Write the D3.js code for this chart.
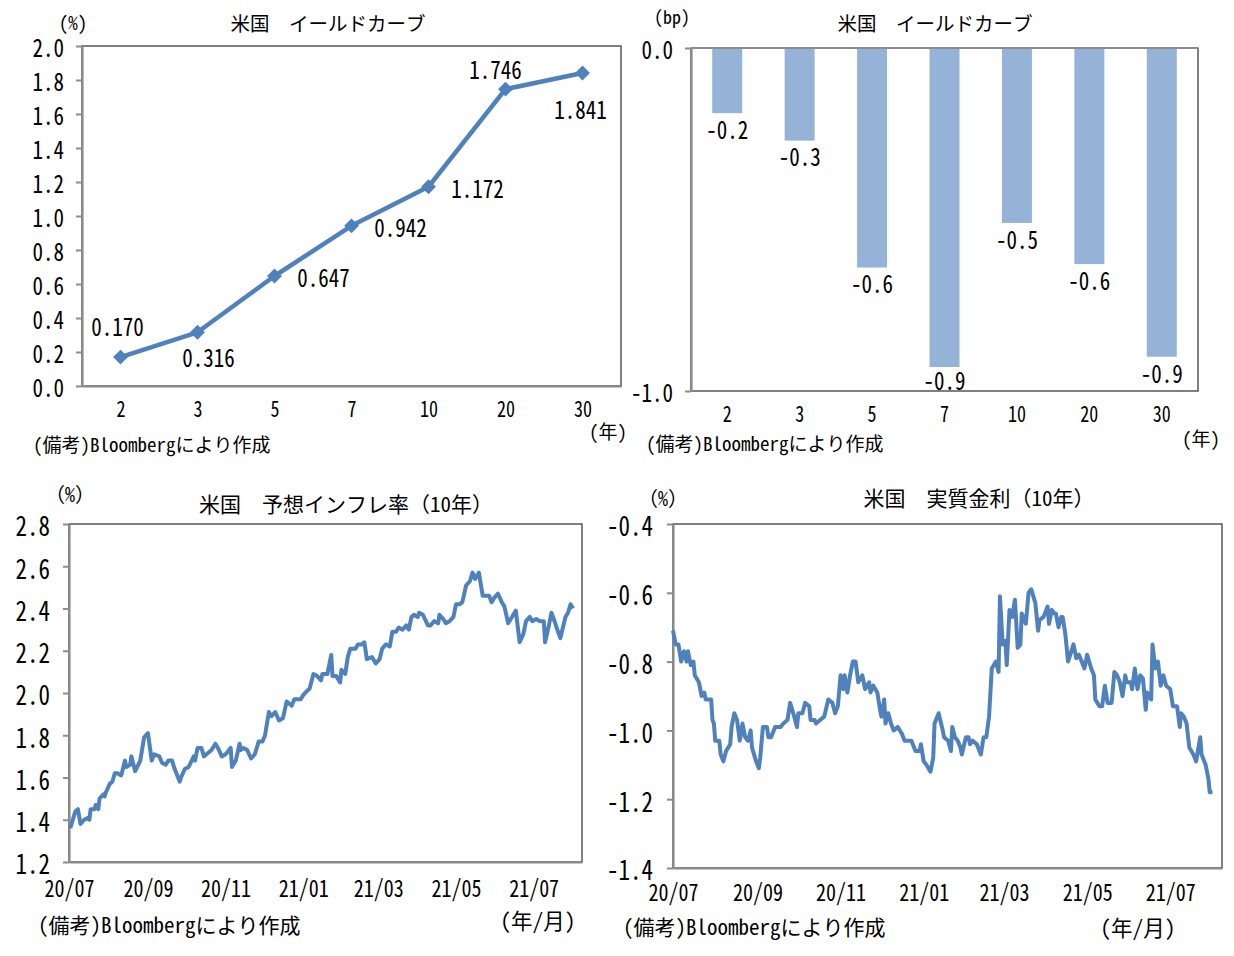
<!DOCTYPE html>
<html>
<head>
<meta charset="utf-8">
<script src="https://cdn.jsdelivr.net/npm/d3@7"></script>
<style>
  body { margin: 0; background: #fff; }
  text { font-family: "Noto Sans Mono CJK JP", "Noto Sans CJK JP", sans-serif; fill: #000; }
</style>
</head>
<body>
<script>
//yield curve data (years to maturity)
var curveTerms = ["2", "3", "5", "7", "10", "20", "30"];
var curveYield = [0.170, 0.316, 0.647, 0.942, 1.172, 1.746, 1.841];
var curveChange = [-0.19, -0.27, -0.64, -0.93, -0.51, -0.63, -0.90];

//10y breakeven inflation, days counted from 2020-07-01
var beiDay = [1,5,7,9,12,15,16,17,20,21,23,24,27,28,29,32,34,36,38,41,44,45,48,49,52,56,59,62,65,67,
  71,73,76,78,81,83,87,88,91,94,98,99,101,104,106,108,112,115,117,120,123,127,128,131,134,135,137,140,143,146,
  149,152,154,157,159,162,165,168,171,175,177,182,184,187,189,192,195,198,199,203,206,207,210,213,214,217,219,221,225,227,
  230,232,234,238,241,244,246,249,252,254,257,259,262,265,267,269,271,274,275,278,282,284,287,290,291,294,296,299,302,304,
  307,309,312,315,317,319,322,325,328,330,332,334,337,340,342,345,348,351,354,357,359,362,364,367,370,373,374,377,379,382,
  383,386,388,390,392,394,396];
var beiValue = [1.36,1.44,1.45,1.38,1.40,1.41,1.40,1.45,1.45,1.47,1.45,1.50,1.52,1.51,1.53,1.57,1.58,1.62,1.62,1.61,
  1.68,1.65,1.66,1.70,1.63,1.68,1.79,1.81,1.68,1.71,1.70,1.67,1.66,1.68,1.68,1.64,1.58,1.60,1.64,1.65,
  1.70,1.68,1.74,1.74,1.70,1.71,1.73,1.76,1.74,1.70,1.71,1.74,1.65,1.68,1.76,1.73,1.74,1.73,1.69,1.71,
  1.77,1.77,1.80,1.91,1.89,1.91,1.87,1.88,1.96,1.94,1.97,1.97,1.99,2.01,2.02,2.09,2.08,2.06,2.09,2.09,
  2.18,2.08,2.08,2.05,2.11,2.09,2.17,2.21,2.21,2.23,2.23,2.24,2.16,2.17,2.14,2.16,2.21,2.23,2.22,2.29,
  2.29,2.31,2.30,2.32,2.30,2.36,2.37,2.36,2.38,2.37,2.32,2.32,2.34,2.33,2.37,2.35,2.33,2.34,2.36,2.42,
  2.42,2.43,2.51,2.53,2.57,2.54,2.57,2.46,2.46,2.46,2.43,2.45,2.47,2.43,2.41,2.33,2.36,2.39,2.24,2.28,
  2.34,2.36,2.34,2.35,2.34,2.34,2.24,2.32,2.38,2.33,2.31,2.26,2.31,2.36,2.38,2.42,2.40];

//10y real yield, days counted from 2020-07-01
var realDay = [0,2,4,6,8,10,11,13,15,16,19,21,23,24,26,28,29,30,31,34,35,37,39,42,43,45,47,49,50,51,
  53,55,57,58,61,63,64,66,69,70,72,75,77,79,81,84,86,89,91,92,95,97,100,101,104,105,108,111,114,117,
  119,121,123,125,126,128,130,132,134,136,139,141,144,145,147,150,152,153,155,156,158,160,162,165,168,170,172,175,178,181,
  182,184,186,189,191,192,195,198,199,202,204,205,207,209,211,212,215,217,218,220,223,226,228,230,232,234,237,239,240,242,
  244,245,247,249,251,253,255,256,259,261,263,266,268,269,272,275,276,278,280,281,283,285,286,288,290,294,296,298,300,302,
  304,307,309,310,313,315,317,319,322,324,326,328,330,332,333,336,337,339,341,343,345,347,348,351,352,354,356,358,360,362,
  365,367,370,372,373,375,377,379,382,384,387,388,391,393,394,396];
var realValue = [-0.71,-0.75,-0.75,-0.80,-0.77,-0.80,-0.77,-0.81,-0.80,-0.84,-0.86,-0.90,-0.89,-0.91,-0.91,-0.91,-0.97,-0.98,-1.03,-1.03,
  -1.07,-1.09,-1.06,-1.04,-0.99,-0.95,-0.97,-1.03,-1.01,-0.98,-1.02,-1.03,-1.00,-1.05,-1.09,-1.11,-1.08,-0.99,-0.99,-1.02,
  -1.02,-0.99,-0.99,-0.99,-0.98,-0.97,-0.92,-0.96,-0.99,-0.95,-0.95,-0.92,-0.93,-0.97,-0.97,-0.98,-0.97,-0.96,-0.91,-0.92,
  -0.95,-0.93,-0.84,-0.88,-0.84,-0.89,-0.84,-0.80,-0.80,-0.86,-0.84,-0.88,-0.86,-0.89,-0.87,-0.89,-0.94,-0.96,-0.91,-0.98,
  -0.95,-0.98,-1.00,-0.99,-1.01,-1.03,-1.03,-1.03,-1.06,-1.06,-1.04,-1.09,-1.10,-1.12,-1.08,-0.98,-0.95,-1.00,-1.02,-1.03,
  -1.06,-0.99,-1.02,-1.03,-1.05,-1.07,-1.02,-1.02,-1.04,-1.03,-1.04,-1.07,-1.02,-1.02,-0.96,-0.82,-0.80,-0.83,-0.61,-0.75,
  -0.74,-0.81,-0.65,-0.67,-0.62,-0.76,-0.75,-0.66,-0.69,-0.60,-0.59,-0.63,-0.71,-0.68,-0.67,-0.64,-0.69,-0.65,-0.66,-0.66,
  -0.70,-0.67,-0.67,-0.72,-0.80,-0.75,-0.79,-0.78,-0.80,-0.82,-0.78,-0.82,-0.84,-0.91,-0.93,-0.93,-0.87,-0.92,-0.92,-0.83,
  -0.84,-0.86,-0.90,-0.84,-0.86,-0.86,-0.88,-0.82,-0.88,-0.84,-0.85,-0.94,-0.89,-0.91,-0.75,-0.82,-0.80,-0.87,-0.84,-0.87,
  -0.88,-0.93,-0.93,-0.99,-0.95,-0.96,-0.98,-1.05,-1.07,-1.09,-1.02,-1.07,-1.10,-1.14,-1.18,-1.18];

//axis ticks
var curveTicks = [0, 0.2, 0.4, 0.6, 0.8, 1.0, 1.2, 1.4, 1.6, 1.8, 2.0];
var changeTicks = [0, -1.0];
var beiTicks = [1.2, 1.4, 1.6, 1.8, 2.0, 2.2, 2.4, 2.6, 2.8];
var realTicks = [-1.4, -1.2, -1.0, -0.8, -0.6, -0.4];
var monthTicks = ["2020-07-01", "2020-09-01", "2020-11-01", "2021-01-01", "2021-03-01", "2021-05-01", "2021-07-01"];
var seriesStart = "2020-07-01", seriesEnd = "2021-08-08";

//label placement for the yield curve points [dx, dy]
var curveLabelOffset = [[-3, -32], [11, 24], [49, 0], [49, 0], [49, 0], [-10, -21], [-2, 35]];

var BLUE = "#4f81bd", BAR = "#95b3d7", AXIS = "#8c8c8c", FRAME = "#3c3c3c";
var TALL = 1.2; //digits in the original font are taller than wide
var parseDate = d3.timeParse("%Y-%m-%d");

var svg = d3.select("body")
    .append("svg")
    .attr("width", 1234)
    .attr("height", 956);

svg.append("rect").attr("width", 1234).attr("height", 956).attr("fill", "#fff");

setCurveChart();
setChangeChart();
setSeriesChart({left: 69, right: 582, top: 524, bottom: 862}, beiDay, beiValue, [1.2, 2.8], beiTicks,
    "米国　予想インフレ率（10年）", 346, 503, 70, 493, 538, 919, 38, 924, 19, 24);
setSeriesChart({left: 673, right: 1222, top: 524, bottom: 868}, realDay, realValue, [-1.4, -0.4], realTicks,
    "米国　実質金利（10年）", 979, 497, 663, 497, 1138, 926, 623, 926, 20, 22);

//small helper for a line of text centred vertically on y
function addText(x, y, str, size, anchor){
    return svg.append("text")
        .attr("x", x)
        .attr("y", y)
        .attr("dominant-baseline", "central")
        .attr("text-anchor", anchor || "middle")
        .style("font-size", size + "px")
        .text(str);
}

//stretch text vertically around its own anchor point
function stretch(sel){
    sel.each(function(){
        var t = d3.select(this);
        var x = +t.attr("x") || 0, y = +t.attr("y") || 0;
        t.attr("x", 0).attr("y", 0)
            .attr("transform", "translate(" + x + "," + y + ") scale(1," + TALL + ")");
    });
}

//plot area border
function drawFrame(box){
    svg.append("rect")
        .attr("x", box.left)
        .attr("y", box.top)
        .attr("width", box.right - box.left)
        .attr("height", box.bottom - box.top)
        .attr("fill", "none")
        .attr("stroke", FRAME)
        .attr("stroke-width", 1.3);
}

//grey axis line + outside ticks, labels right aligned
function styleAxis(g, size, labelGap){
    g.select(".domain").attr("stroke", AXIS).attr("stroke-width", 2.2);
    g.selectAll(".tick line").attr("stroke", AXIS).attr("stroke-width", 2);
    g.selectAll(".tick text")
        .attr("fill", "#000")
        .attr("dy", null)
        .attr("dominant-baseline", "central")
        .style("font-family", null)
        .style("font-size", size + "px");
    g.attr("font-family", null).attr("font-size", null);
    if (labelGap) g.selectAll(".tick text").attr("x", -labelGap);
}

function setCurveChart(){
    var box = {left: 82, right: 621, top: 46, bottom: 386};

    var x = d3.scalePoint()
        .domain(curveTerms)
        .range([box.left, box.right])
        .padding(0.5);
    var y = d3.scaleLinear()
        .domain([0, 2])
        .range([box.bottom, box.top]);

    drawFrame(box);

    var yAxis = svg.append("g")
        .attr("transform", "translate(" + box.left + ",0)")
        .call(d3.axisLeft(y).tickValues(curveTicks).tickSize(6).tickSizeOuter(0)
            .tickFormat(function(d){ return d.toFixed(1); }));
    styleAxis(yAxis, 21, 18);
    stretch(yAxis.selectAll(".tick text"));

    var xAxis = svg.append("g")
        .attr("transform", "translate(0," + box.bottom + ")")
        .call(d3.axisBottom(x).tickSize(0).tickSizeOuter(0));
    styleAxis(xAxis, 18);
    xAxis.selectAll(".tick text").attr("y", 22);
    stretch(xAxis.selectAll(".tick text"));

    var pts = curveTerms.map(function(t, i){ return {term: t, value: curveYield[i], i: i}; });

    svg.append("path")
        .datum(pts)
        .attr("fill", "none")
        .attr("stroke", BLUE)
        .attr("stroke-width", 4.5)
        .attr("stroke-linejoin", "round")
        .attr("d", d3.line().x(function(d){ return x(d.term); }).y(function(d){ return y(d.value); }));

    svg.selectAll(".marker")
        .data(pts)
        .enter()
        .append("path")
        .attr("class", "marker")
        .attr("fill", BLUE)
        .attr("d", d3.symbol(d3.symbolSquare, 110))
        .attr("transform", function(d){ return "translate(" + x(d.term) + "," + y(d.value) + ") rotate(45)"; });

    var labels = svg.selectAll(".curveLabel")
        .data(pts)
        .enter()
        .append("text")
        .attr("class", "curveLabel")
        .attr("x", function(d){ return x(d.term) + curveLabelOffset[d.i][0]; })
        .attr("y", function(d){ return y(d.value) + curveLabelOffset[d.i][1]; })
        .attr("text-anchor", "middle")
        .attr("dominant-baseline", "central")
        .style("font-size", "21px")
        .text(function(d){ return d.value.toFixed(3); });
    stretch(labels);

    addText(73, 21, "(%)", 19);
    addText(328, 22, "米国　イールドカーブ", 19.5);
    addText(608, 430, "(年)", 19);
    addText(33, 443, "(備考)Bloombergにより作成", 19, "start");
}

function setChangeChart(){
    var box = {left: 691, right: 1198, top: 48, bottom: 391};

    var x = d3.scaleBand()
        .domain(curveTerms)
        .range([box.left, box.right])
        .paddingInner(0.586)
        .paddingOuter(0.293);
    var y = d3.scaleLinear()
        .domain([-1, 0])
        .range([box.bottom, box.top]);

    drawFrame(box);

    svg.selectAll(".bar")
        .data(curveChange)
        .enter()
        .append("rect")
        .attr("class", "bar")
        .attr("x", function(d, i){ return x(curveTerms[i]); })
        .attr("y", y(0))
        .attr("width", x.bandwidth())
        .attr("height", function(d){ return y(d) - y(0); })
        .attr("fill", BAR);

    var labels = svg.selectAll(".barLabel")
        .data(curveChange)
        .enter()
        .append("text")
        .attr("class", "barLabel")
        .attr("x", function(d, i){ return x(curveTerms[i]) + x.bandwidth() / 2; })
        .attr("y", function(d){ return Math.min(y(d) + 15, box.bottom - 12); })
        .attr("text-anchor", "middle")
        .attr("dominant-baseline", "central")
        .style("font-size", "21px")
        .text(function(d){ return d.toFixed(1); });
    stretch(labels);

    //category axis sits on zero, labels go below the plot
    svg.append("line")
        .attr("x1", box.left).attr("x2", box.right)
        .attr("y1", y(0)).attr("y2", y(0))
        .attr("stroke", AXIS).attr("stroke-width", 2.2);

    var yAxis = svg.append("g")
        .attr("transform", "translate(" + box.left + ",0)")
        .call(d3.axisLeft(y).tickValues(changeTicks).tickSize(6).tickSizeOuter(0)
            .tickFormat(function(d){ return d.toFixed(1); }));
    styleAxis(yAxis, 21, 18);
    stretch(yAxis.selectAll(".tick text"));

    curveTerms.forEach(function(t){
        stretch(addText(x(t) + x.bandwidth() / 2, box.bottom + 22, t, 18));
    });

    addText(672, 16, "(bp)", 18);
    addText(935, 22, "米国　イールドカーブ", 19.5);
    addText(1201, 437, "(年)", 19);
    addText(646, 442, "(備考)Bloombergにより作成", 19, "start");
}

function setSeriesChart(box, days, values, yDomain, yTicks, title, tx, ty, ux, uy, mx, my, sx, sy, labelGap, xGap){
    var start = parseDate(seriesStart);
    var data = days.map(function(d, i){ return {date: d3.timeDay.offset(start, d), value: values[i]}; });

    var x = d3.scaleTime()
        .domain([start, parseDate(seriesEnd)])
        .range([box.left, box.right]);
    var y = d3.scaleLinear()
        .domain(yDomain)
        .range([box.bottom, box.top]);

    drawFrame(box);

    var yAxis = svg.append("g")
        .attr("transform", "translate(" + box.left + ",0)")
        .call(d3.axisLeft(y).tickValues(yTicks).tickSize(6).tickSizeOuter(0)
            .tickFormat(function(d){ return d.toFixed(1); }));
    styleAxis(yAxis, 23, labelGap);
    stretch(yAxis.selectAll(".tick text"));

    var xAxis = svg.append("g")
        .attr("transform", "translate(0," + box.bottom + ")")
        .call(d3.axisBottom(x).tickValues(monthTicks.map(parseDate)).tickSize(0).tickSizeOuter(0)
            .tickFormat(d3.timeFormat("%y/%m")));
    styleAxis(xAxis, 20);
    xAxis.selectAll(".tick text").attr("y", xGap);
    stretch(xAxis.selectAll(".tick text"));

    svg.append("path")
        .datum(data)
        .attr("fill", "none")
        .attr("stroke", BLUE)
        .attr("stroke-width", 4)
        .attr("stroke-linejoin", "round")
        .attr("d", d3.line().x(function(d){ return x(d.date); }).y(function(d){ return y(d.value); }));

    addText(ux, uy, "（%）", 20);
    addText(tx, ty, title, 21);
    addText(mx, my, "(年/月)", 21.5);
    addText(sx, sy, "(備考)Bloombergにより作成", 21, "start");
}
</script>
</body>
</html>
